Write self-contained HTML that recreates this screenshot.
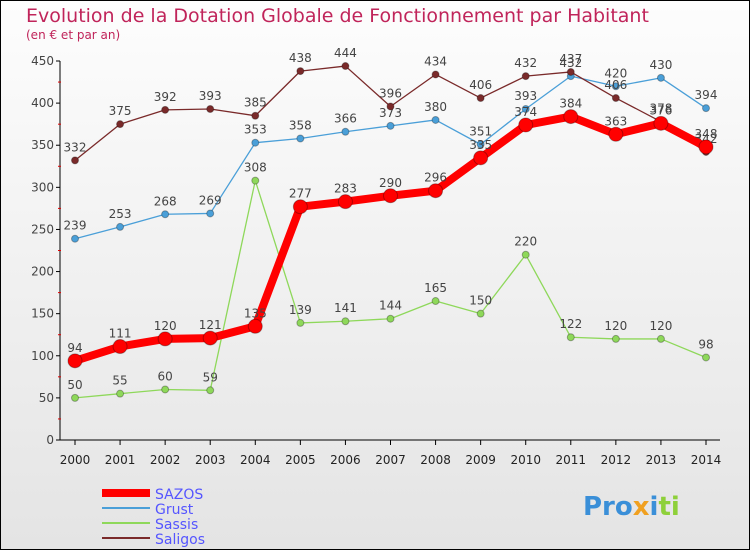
<!DOCTYPE html>
<html><head><meta charset="utf-8"><style>
body{margin:0}
#c{width:750px;height:550px;position:relative;background:linear-gradient(#fdfdfd,#e4e4e4);box-sizing:border-box;border:1px solid #000;font-family:"DejaVu Sans","Liberation Sans",sans-serif;overflow:hidden}
text{font-family:"DejaVu Sans","Liberation Sans",sans-serif}
</style></head><body>
<div id="c">
<svg id="s" width="750" height="550" style="position:absolute;left:-1px;top:-1px">
<text x="26" y="22" font-size="19" fill="#c0245a">Evolution de la Dotation Globale de Fonctionnement par Habitant</text>
<text x="26" y="39" font-size="12" fill="#c0245a">(en € et par an)</text>
<g id="axes"></g><g id="series"></g>
<g>
<line x1="102" y1="493" x2="150" y2="493" stroke="#f00" stroke-width="8"/>
<text x="155" y="499" font-size="14" fill="#55f">SAZOS</text>
<line x1="102" y1="508" x2="150" y2="508" stroke="#4a9fd8" stroke-width="2"/>
<text x="155" y="514" font-size="14" fill="#55f">Grust</text>
<line x1="102" y1="523" x2="150" y2="523" stroke="#8ed85a" stroke-width="2"/>
<text x="155" y="529" font-size="14" fill="#55f">Sassis</text>
<line x1="102" y1="538" x2="150" y2="538" stroke="#7a2a2a" stroke-width="2"/>
<text x="155" y="544" font-size="14" fill="#55f">Saligos</text>
</g>
<text x="583" y="515" font-size="26" font-weight="bold"><tspan fill="#3a8fd8">Pro</tspan><tspan fill="#f0a020">x</tspan><tspan fill="#3a8fd8">i</tspan><tspan fill="#8ed03a">ti</tspan></text>
</svg>
<script>
const years=[2000,2001,2002,2003,2004,2005,2006,2007,2008,2009,2010,2011,2012,2013,2014];
const yTicks=[0,50,100,150,200,250,300,350,400,450];
const sazos=[94,111,120,121,135,277,283,290,296,335,374,384,363,376,348];
const grust=[239,253,268,269,353,358,366,373,380,351,393,432,420,430,394];
const sassis=[50,55,60,59,308,139,141,144,165,150,220,122,120,120,98];
const saligos=[332,375,392,393,385,438,444,396,434,406,432,437,406,378,342];
const NS='http://www.w3.org/2000/svg';
const X=i=>75+i*(706-75)/(years.length-1);
const Y=v=>440-v*(440-61)/450;
function mk(t,a,p){const e=document.createElementNS(NS,t);for(const k in a)e.setAttribute(k,a[k]);p.appendChild(e);return e;}
const ax=document.getElementById('axes'),sg=document.getElementById('series');
const yl=mk('line',{x1:60,y1:Y(450),x2:60,y2:440,stroke:'#000'},ax);


const xl=mk('line',{x1:60,y1:440,x2:720,y2:440,stroke:'#000'},ax);


yTicks.forEach(v=>{mk('line',{x1:56,y1:Y(v),x2:60,y2:Y(v),stroke:'#000'},ax);
if(v<450)mk('line',{x1:58,y1:Y(v+25),x2:61,y2:Y(v+25),stroke:'#d00'},ax);
const t=mk('text',{x:54,y:Y(v)+4,'text-anchor':'end','font-size':12,fill:'#444'},ax);t.textContent=v;

});
years.forEach((y,i)=>{mk('line',{x1:X(i),y1:440,x2:X(i),y2:445,stroke:'#000'},ax);
const t=mk('text',{x:X(i),y:464,'text-anchor':'middle','font-size':12,fill:'#222'},ax);t.textContent=y;

});
function series(d,col,w,r,name){const g=mk('g',{},sg);


mk('polyline',{points:d.map((v,i)=>X(i)+','+Y(v)).join(' '),fill:'none',stroke:col,'stroke-width':w,'stroke-linejoin':'round'},g);
d.forEach((v,i)=>{const c=mk('circle',{cx:X(i),cy:Y(v),r:r,fill:col,stroke:'rgba(0,0,0,0.3)'},g);


const t=mk('text',{x:X(i),y:Y(v)-9,'text-anchor':'middle','font-size':12,fill:'#444'},g);t.textContent=v;

});}
series(sassis,'#8ed85a',1.3,3.5,'sassis');
series(grust,'#4a9fd8',1.3,3.5,'grust');
series(saligos,'#7a2a2a',1.3,3.5,'saligos');
series(sazos,'#f00',8,7,'sazos');
</script>
</div></body></html>
